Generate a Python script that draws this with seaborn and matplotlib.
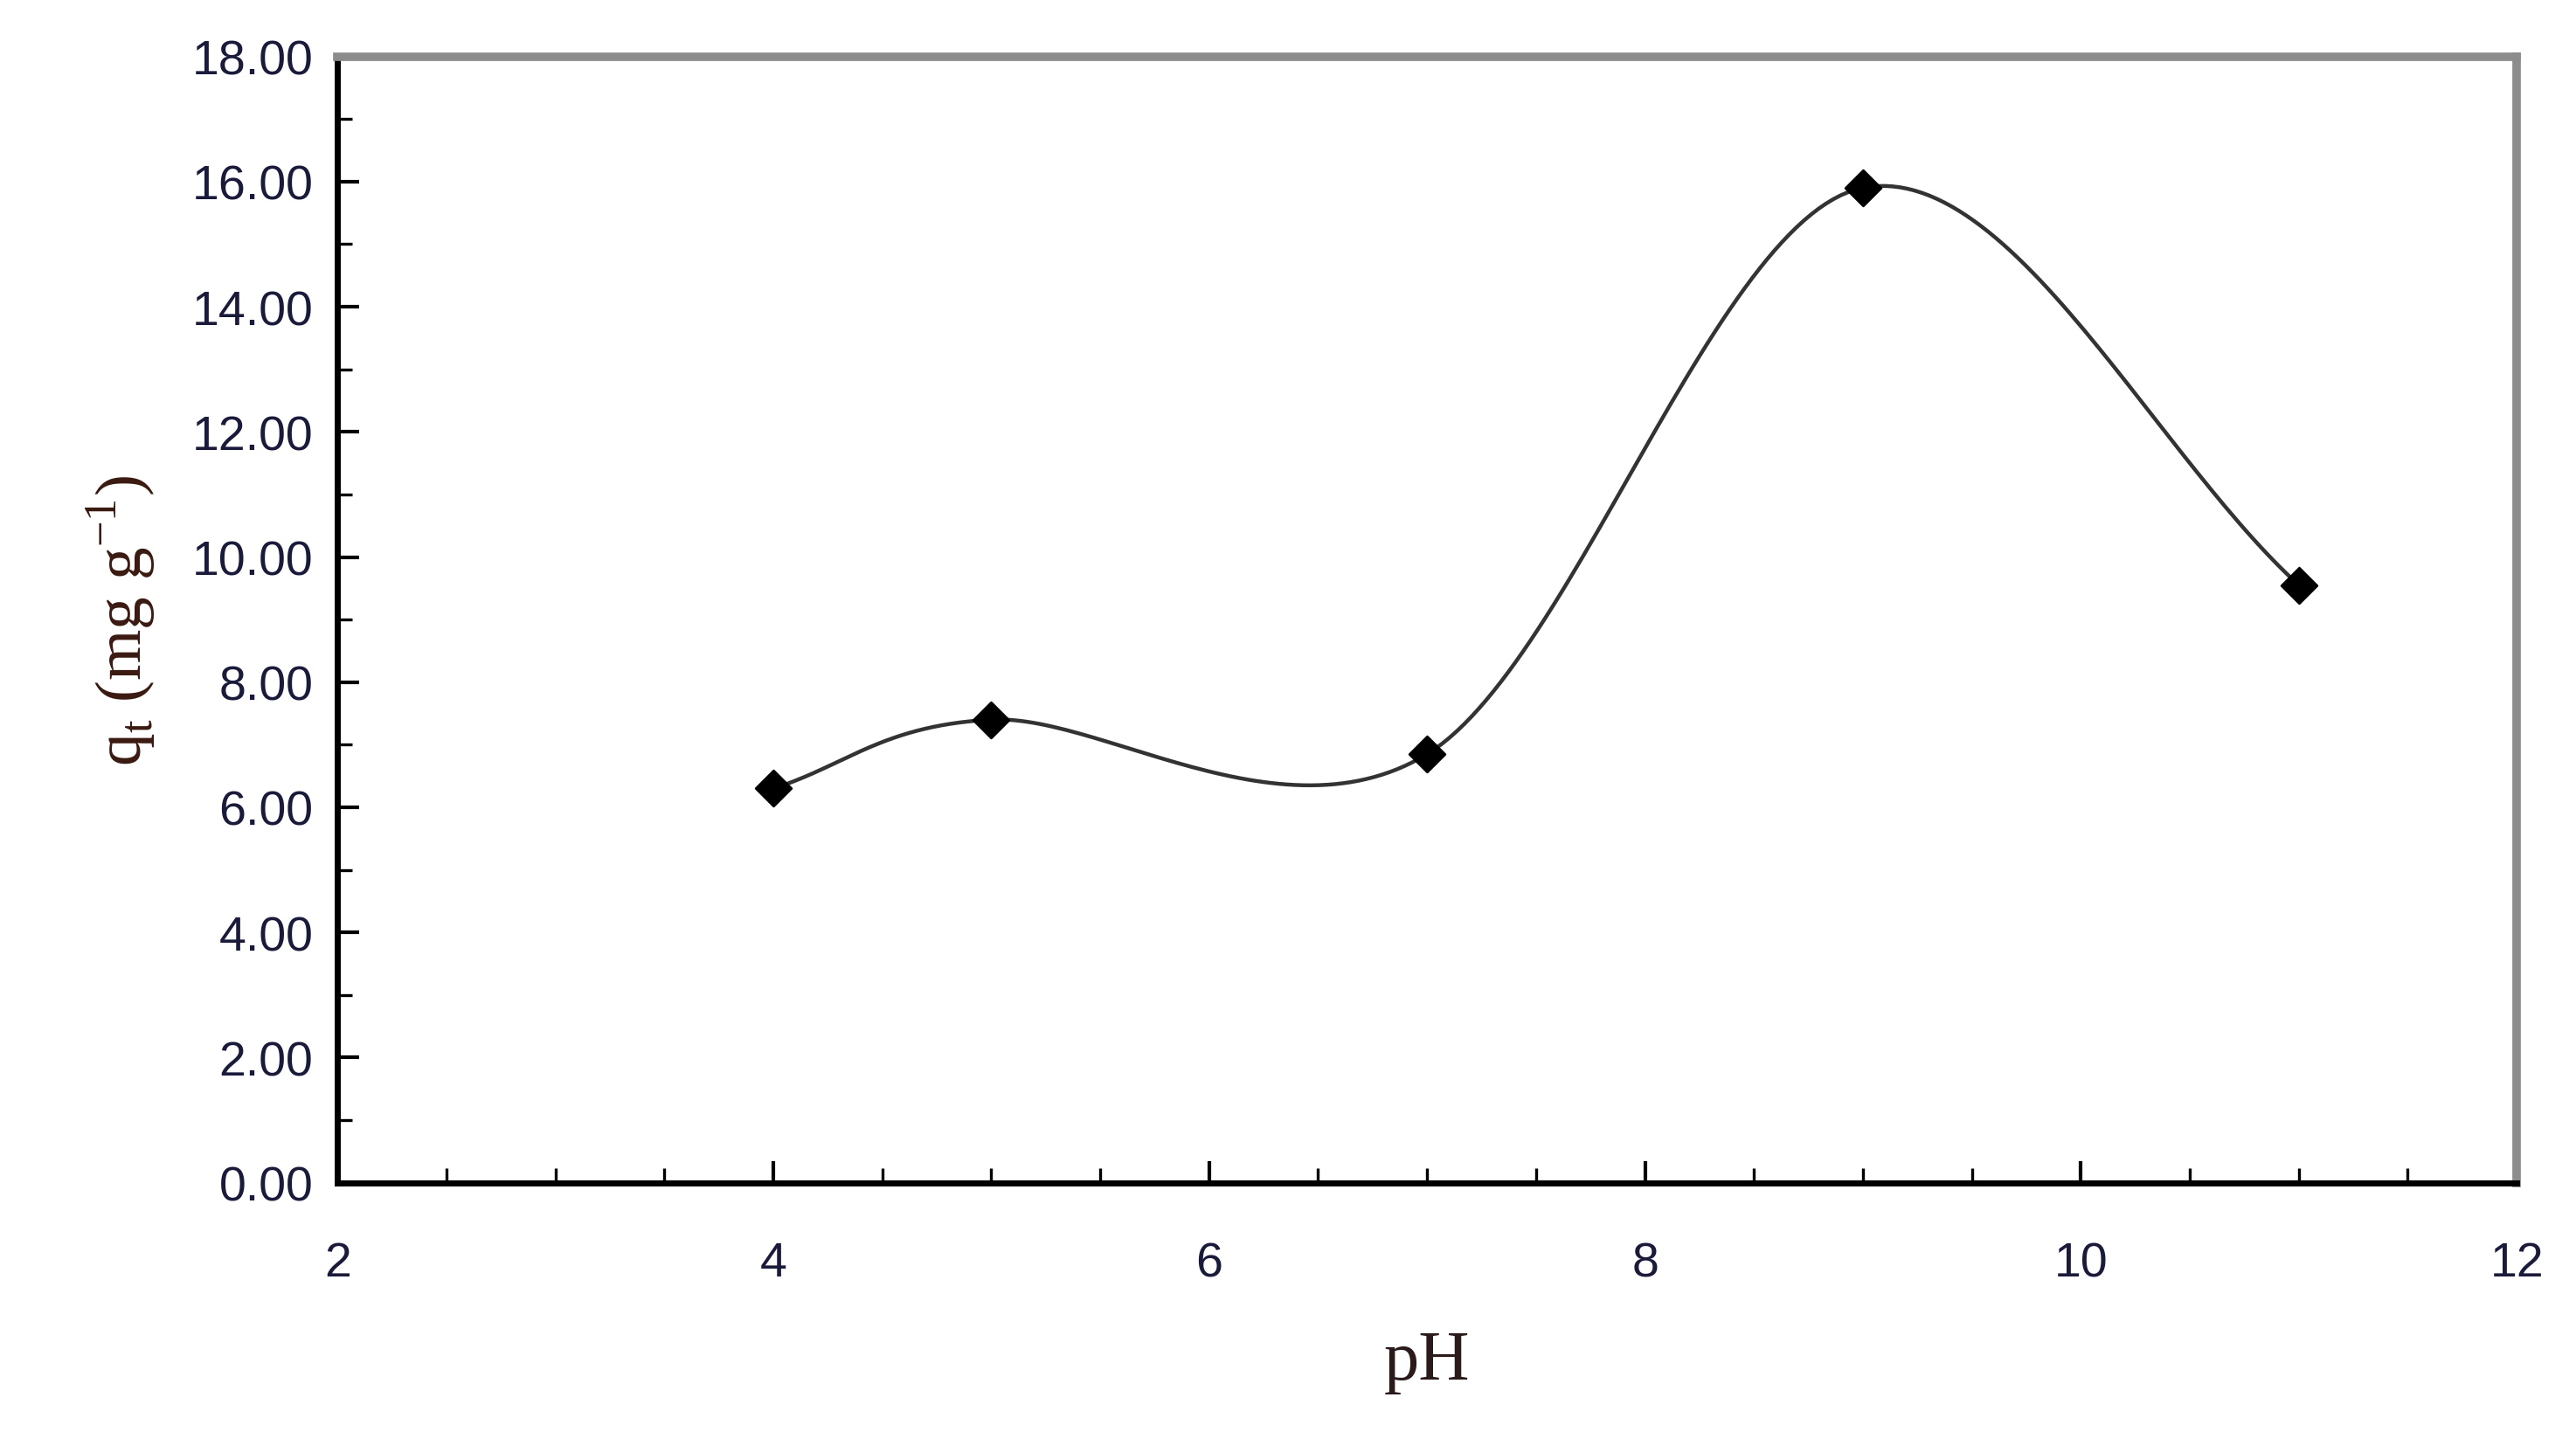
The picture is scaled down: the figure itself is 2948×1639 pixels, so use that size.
import numpy as np
import matplotlib
matplotlib.use("Agg")
import matplotlib.pyplot as plt
import seaborn as sns
from matplotlib.ticker import MultipleLocator

ph = [4, 5, 7, 9, 11]
qt = [6.30, 7.40, 6.85, 15.90, 9.55]


def catmull_rom(x, y, n=60):
    # smoothed line through the points (Excel-style)
    x = np.asarray(x, float)
    y = np.asarray(y, float)
    px = np.concatenate([[2 * x[0] - x[1]], x, [2 * x[-1] - x[-2]]])
    py = np.concatenate([[2 * y[0] - y[1]], y, [2 * y[-1] - y[-2]]])
    xs, ys = [], []
    t = np.linspace(0, 1, n)
    for i in range(1, len(px) - 2):
        for p, out in ((px, xs), (py, ys)):
            p0, p1, p2, p3 = p[i - 1], p[i], p[i + 1], p[i + 2]
            m1 = (p2 - p0) / 2
            m2 = (p3 - p1) / 2
            h00 = 2 * t**3 - 3 * t**2 + 1
            h10 = t**3 - 2 * t**2 + t
            h01 = -2 * t**3 + 3 * t**2
            h11 = t**3 - t**2
            out.extend(h00 * p1 + h10 * m1 + h01 * p2 + h11 * m2)
    return np.array(xs), np.array(ys)


sns.set_style("white")
fig = plt.figure(figsize=(14.74, 8.2), dpi=200)
ax = fig.add_axes([0.131, 0.174, 0.846, 0.786])

sx, sy = catmull_rom(ph, qt)
sns.lineplot(x=sx, y=sy, sort=False, color="#333333", linewidth=1.6, ax=ax)
sns.scatterplot(x=ph, y=qt, marker="D", s=110, color="black", edgecolor="black", zorder=5, ax=ax)

ax.set_xlim(2, 12)
ax.set_ylim(0, 18)
ax.xaxis.set_major_locator(MultipleLocator(2))
ax.xaxis.set_minor_locator(MultipleLocator(0.5))
ax.yaxis.set_major_locator(MultipleLocator(2))
ax.yaxis.set_minor_locator(MultipleLocator(1))
ax.set_yticklabels([f"{v:.2f}" for v in ax.get_yticks()])
for lab in ax.get_xticklabels() + ax.get_yticklabels():
    lab.set_family("Liberation Sans")
ax.tick_params(which="both", direction="in", color="black", bottom=True, left=True,
               labelsize=20, labelcolor="#1a1a3a")
ax.tick_params(which="major", length=9, width=1.5)
ax.tick_params(which="minor", length=6, width=1.2)
ax.tick_params(axis="x", pad=24)
ax.tick_params(axis="y", pad=10)

for s in ["left", "bottom"]:
    ax.spines[s].set_color("black")
    ax.spines[s].set_linewidth(2.5)
for s in ["top", "right"]:
    ax.spines[s].set_color("#8c8c8c")
    ax.spines[s].set_linewidth(3.5)

ax.set_xlabel("pH", fontsize=29, family="Liberation Serif", color="#2a1a1a", labelpad=18)
ax.set_ylabel(r"q$_\mathregular{t}$ (mg g$^\mathregular{-1}$)", fontsize=27,
              family="Liberation Serif", color="#3a1a10", labelpad=14)

fig.savefig("out.png", dpi=200)
